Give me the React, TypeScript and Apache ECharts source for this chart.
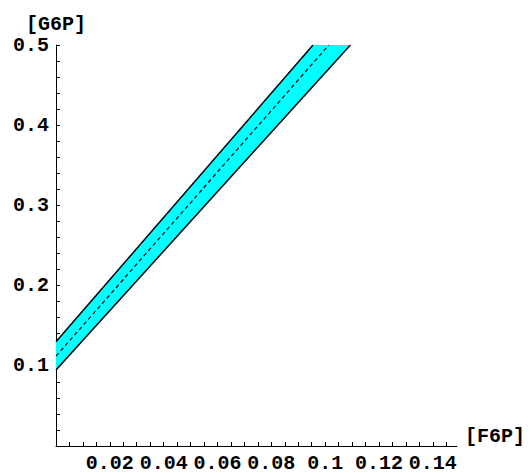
import React, { useEffect, useRef } from "react";
import * as echarts from "echarts";

// Band boundaries (x = [F6P], y = [G6P])
const upperLine: [number, number][] = [[0, 0.130], [0.0955, 0.5]];
const centerLine: [number, number][] = [[0, 0.112], [0.1014, 0.5]];
const lowerLine: [number, number][] = [[0, 0.0948], [0.1094, 0.5]];

const xTickLabels = [0.02, 0.04, 0.06, 0.08, 0.1, 0.12, 0.14];
const yTickLabels = [0.1, 0.2, 0.3, 0.4, 0.5];

const xMin = 0;
const xMax = 0.149;
const yMin = 0;
const yMax = 0.5;

const FONT = "'Liberation Mono', 'Courier New', monospace";

export default function App() {
  const ref = useRef<HTMLDivElement>(null);
  useEffect(() => {
    if (!ref.current) return;
    const chart = echarts.init(ref.current, undefined, { renderer: "svg" });
    const bandPoly = [...upperLine, ...lowerLine.slice().reverse()];
    const fmt = (v: number) => parseFloat(v.toFixed(3)).toString();
    const labelStyle = { fontFamily: FONT, fontWeight: "bold" as const, fontSize: 20, color: "#000" };
    chart.setOption({
      animation: false,
      grid: { left: 56, right: 74, top: 45, bottom: 27, containLabel: false },
      xAxis: {
        type: "value",
        min: xMin,
        max: xMax,
        interval: 0.005,
        name: "[F6P]",
        nameLocation: "end",
        nameGap: 8,
        nameTextStyle: { ...labelStyle, align: "left", verticalAlign: "bottom", lineHeight: 20 },
        axisLine: { show: true, lineStyle: { color: "#000", width: 1 } },
        axisTick: { show: true, inside: true, length: 4, lineStyle: { color: "#000" } },
        splitLine: { show: false },
        axisLabel: {
          ...labelStyle,
          margin: 7,
          showMinLabel: false,
          showMaxLabel: false,
          formatter: (v: number) => {
            const s = fmt(v);
            return xTickLabels.some((t) => Math.abs(t - v) < 1e-6) ? s : "";
          },
        },
      },
      yAxis: {
        type: "value",
        min: yMin,
        max: yMax,
        interval: 0.1,
        name: "[G6P]",
        nameLocation: "end",
        nameGap: 11,
        nameTextStyle: { ...labelStyle, align: "center", padding: [0, 0, 0, 0] },
        axisLine: { show: true, lineStyle: { color: "#000", width: 1 } },
        axisTick: { show: true, inside: true, length: 4, lineStyle: { color: "#000" } },
        minorTick: { show: true, splitNumber: 5, length: 4, lineStyle: { color: "#000" } },
        splitLine: { show: false },
        minorSplitLine: { show: false },
        axisLabel: {
          ...labelStyle,
          margin: 7,
          showMinLabel: false,
          formatter: (v: number) => (yTickLabels.some((t) => Math.abs(t - v) < 1e-6) ? fmt(v) : ""),
        },
      },
      series: [
        {
          type: "custom",
          silent: true,
          clip: true,
          data: [0],
          renderItem: (params: any, api: any) => {
            const pts = bandPoly.map((p) => api.coord(p));
            return {
              type: "polygon",
              shape: { points: pts },
              style: { fill: "#00FFFF", stroke: "none" },
            };
          },
          z: 1,
        },
        {
          type: "line",
          data: upperLine,
          symbol: "none",
          lineStyle: { color: "#000", width: 1.5 },
          z: 3,
        },
        {
          type: "line",
          data: lowerLine,
          symbol: "none",
          lineStyle: { color: "#000", width: 1.5 },
          z: 3,
        },
        {
          type: "line",
          data: centerLine,
          symbol: "none",
          lineStyle: { color: "#000", width: 1.2, type: [4, 3] },
          z: 3,
        },
      ],
    });
    return () => chart.dispose();
  }, []);
  return (
    <div
      ref={ref}
      style={{ position: "fixed", left: 0, top: 0, width: 531, height: 473, background: "#fff" }}
    />
  );
}
